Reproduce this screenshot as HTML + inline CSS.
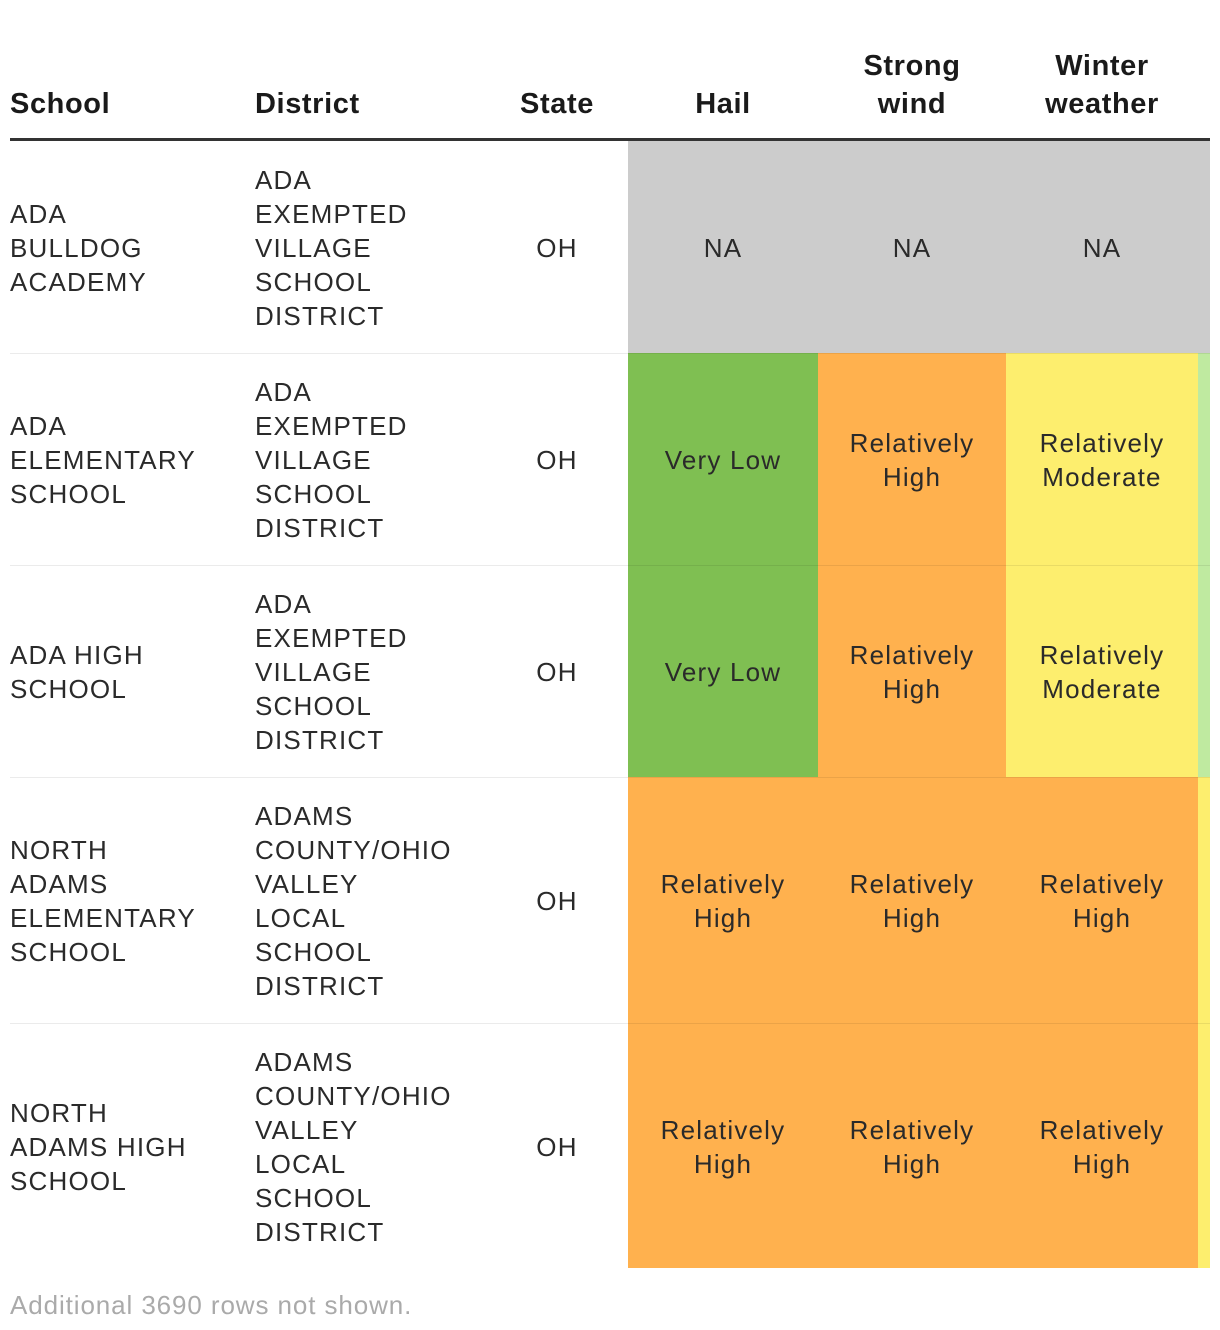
<!DOCTYPE html>
<html><head><meta charset="utf-8"><style>
body{margin:0;width:1220px;height:1330px;background:#fff;font-family:"Liberation Sans",sans-serif;color:#2a2a2a;position:relative;overflow:hidden}
.c{position:absolute;display:flex;flex-direction:column;justify-content:center;font-size:26px;line-height:34px;letter-spacing:1.2px;box-sizing:border-box;padding-top:2px}
.h{position:absolute;font-size:29px;font-weight:bold;line-height:38px;color:#1a1a1a;letter-spacing:0.6px}
.ctr{align-items:center;text-align:center}
.sep{position:absolute;left:10px;width:1200px;height:1px;background:rgba(0,0,0,0.08)}
</style></head><body>
<div class="h" style="left:10px;top:85px">School</div>
<div class="h" style="left:255px;top:85px">District</div>
<div class="h" style="left:508px;width:98px;text-align:center;top:85px">State</div>
<div class="h" style="left:628px;width:190px;text-align:center;top:85px">Hail</div>
<div class="h" style="left:818px;width:188px;text-align:center;top:47px">Strong<br>wind</div>
<div class="h" style="left:1006px;width:192px;text-align:center;top:47px">Winter<br>weather</div>
<div style="position:absolute;left:10px;top:138px;width:1200px;height:3px;background:#333"></div>
<div id="rows"></div>
<div style="position:absolute;left:10px;top:1290px;font-size:26px;letter-spacing:0.9px;color:#aaa;line-height:30px">Additional 3690 rows not shown.</div>
<script>
const schools=["ADA<br>BULLDOG<br>ACADEMY","ADA<br>ELEMENTARY<br>SCHOOL","ADA HIGH<br>SCHOOL","NORTH<br>ADAMS<br>ELEMENTARY<br>SCHOOL","NORTH<br>ADAMS HIGH<br>SCHOOL"];
const districts=["ADA<br>EXEMPTED<br>VILLAGE<br>SCHOOL<br>DISTRICT","ADA<br>EXEMPTED<br>VILLAGE<br>SCHOOL<br>DISTRICT","ADA<br>EXEMPTED<br>VILLAGE<br>SCHOOL<br>DISTRICT","ADAMS<br>COUNTY/OHIO<br>VALLEY<br>LOCAL<br>SCHOOL<br>DISTRICT","ADAMS<br>COUNTY/OHIO<br>VALLEY<br>LOCAL<br>SCHOOL<br>DISTRICT"];
const states=["OH","OH","OH","OH","OH"];
const hail=["NA","Very Low","Very Low","Relatively High","Relatively High"];
const wind=["NA","Relatively High","Relatively High","Relatively High","Relatively High"];
const winter=["NA","Relatively Moderate","Relatively Moderate","Relatively High","Relatively High"];
const extra=["NA","Very Low","Very Low","Relatively Moderate","Relatively Moderate"];
const rowTops=[141,353,565,777,1023,1268];
const colors={"NA":"#cccccc","Very Low":"#7fbf52","Relatively Low":"#bfeaa0","Relatively Moderate":"#fdee6e","Relatively High":"#ffb14e"};
const extraColors={"NA":"#cccccc","Very Low":"#bfeaa0","Relatively Moderate":"#fdee6e"};
const root=document.getElementById('rows');
function cell(x,w,y,h,html,cls,bg,name){
  const d=document.createElement('div');
  d.className='c '+(cls||'');
  d.style.left=x+'px';d.style.top=y+'px';d.style.width=w+'px';d.style.height=h+'px';
  if(bg)d.style.background=bg;
  d.innerHTML=html;
  
  
  root.appendChild(d);
}
for(let i=0;i<schools.length;i++){
  const y=rowTops[i],h=rowTops[i+1]-rowTops[i];
  cell(10,240,y,h,schools[i],'',null,'school-cell');
  cell(255,250,y,h,districts[i],'',null,'district-cell');
  cell(508,98,y,h,states[i],'ctr',null,'state-cell');
  cell(628,190,y,h,hail[i].replace('Relatively ','Relatively<br>'),'ctr',colors[hail[i]],'hail-cell');
  cell(818,188,y,h,wind[i].replace('Relatively ','Relatively<br>'),'ctr',colors[wind[i]],'wind-cell');
  cell(1006,192,y,h,winter[i].replace('Relatively ','Relatively<br>'),'ctr',colors[winter[i]],'winter-cell');
  cell(1198,12,y,h,'','',extraColors[extra[i]],'extra-cell');
  if(i>0){const s=document.createElement('div');s.className='sep';s.style.top=y+'px';
    
    
    root.appendChild(s);}
}
</script>
</body></html>
